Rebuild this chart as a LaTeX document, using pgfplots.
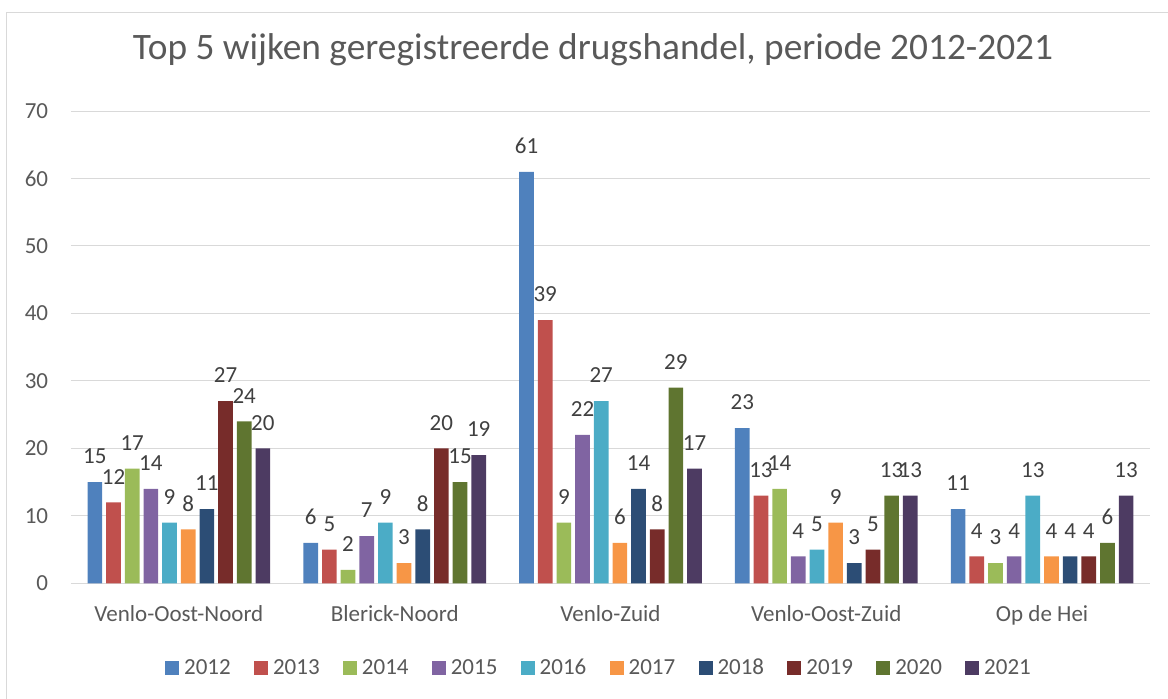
\documentclass[border=0pt]{standalone}
\usepackage{pgfplots}
\pgfplotsset{compat=1.18}
\usepackage{fontspec}
\setmainfont{Carlito}
\definecolor{c1}{HTML}{4F81BD}
\definecolor{c2}{HTML}{C0504D}
\definecolor{c3}{HTML}{9BBB59}
\definecolor{c4}{HTML}{8064A2}
\definecolor{c5}{HTML}{4BACC6}
\definecolor{c6}{HTML}{F79646}
\definecolor{c7}{HTML}{2C4D75}
\definecolor{c8}{HTML}{772C2A}
\definecolor{c9}{HTML}{5F7530}
\definecolor{c10}{HTML}{4D3B62}
\definecolor{gridc}{HTML}{D9D9D9}
\definecolor{tickc}{HTML}{595959}
\definecolor{lblc}{HTML}{404040}
\newcommand\lbl{\fontsize{17.25pt}{20pt}\selectfont}
\newcommand\ttl{\fontsize{28pt}{33pt}\selectfont}
\begin{document}
\begin{tikzpicture}
\useasboundingbox (0,0) rectangle (876pt,524.25pt);
\begin{scope}
\clip (0,0) rectangle (876pt,524.25pt);
\draw[gridc, line width=0.75pt] (5pt,-10pt) rectangle (890pt,515pt);
\end{scope}
\begin{axis}[
  at={(53.25pt,86.625pt)}, anchor=south west,
  width=809.25pt, height=354.375pt, scale only axis,
  xmin=-0.5, xmax=4.5, ymin=0, ymax=70,
  ytick={0,10,...,70},
  xtick={0,1,2,3,4},
  xticklabels={Venlo-Oost-Noord,Blerick-Noord,Venlo-Zuid,Venlo-Oost-Zuid,Op de Hei},
  /pgf/number format/assume math mode=true,
  axis line style={draw=none},
  major tick length=0pt,
  ymajorgrids, grid style={gridc, line width=0.75pt},
  yticklabel style={font=\lbl, color=tickc, inner sep=0pt, anchor=east, xshift=-17pt},
  xticklabel style={font=\lbl, color=tickc, inner sep=0pt, anchor=base, yshift=-28.65pt},
  title={Top 5 wijken geregistreerde drugshandel, periode 2012-2021},
  title style={font=\ttl, color=tickc, at={(0.4838,1.0931)}, anchor=base, inner sep=0pt},
  ybar=3pt, bar width=11pt,
  nodes near coords,
  every node near coord/.append style={font=\lbl, color=lblc, inner sep=0pt, anchor=south, yshift=13.5pt},
  legend columns=10,
  legend style={at={(0.4884,-0.1788)}, anchor=center, draw=none, font=\lbl, text=tickc,
    nodes={inner sep=0pt, anchor=base west},
    /tikz/every odd column/.append style={column sep=3.75pt},
    /tikz/every even column/.append style={column sep=17.45pt}},
  legend image code/.code={\fill[#1] (0pt,0.2pt) rectangle (10.5pt,10.7pt);},
]
\addplot[fill=c1, draw=none] coordinates {(0,15) (1,6) (2,61) (3,23) (4,11)};
\addplot[fill=c2, draw=none] coordinates {(0,12) (1,5) (2,39) (3,13) (4,4)};
\addplot[fill=c3, draw=none] coordinates {(0,17) (1,2) (2,9) (3,14) (4,3)};
\addplot[fill=c4, draw=none] coordinates {(0,14) (1,7) (2,22) (3,4) (4,4)};
\addplot[fill=c5, draw=none] coordinates {(0,9) (1,9) (2,27) (3,5) (4,13)};
\addplot[fill=c6, draw=none] coordinates {(0,8) (1,3) (2,6) (3,9) (4,4)};
\addplot[fill=c7, draw=none] coordinates {(0,11) (1,8) (2,14) (3,3) (4,4)};
\addplot[fill=c8, draw=none] coordinates {(0,27) (1,20) (2,8) (3,5) (4,4)};
\addplot[fill=c9, draw=none] coordinates {(0,24) (1,15) (2,29) (3,13) (4,6)};
\addplot[fill=c10, draw=none] coordinates {(0,20) (1,19) (2,17) (3,13) (4,13)};
\legend{2012,2013,2014,2015,2016,2017,2018,2019,2020,2021}
\end{axis}
\end{tikzpicture}
\end{document}
